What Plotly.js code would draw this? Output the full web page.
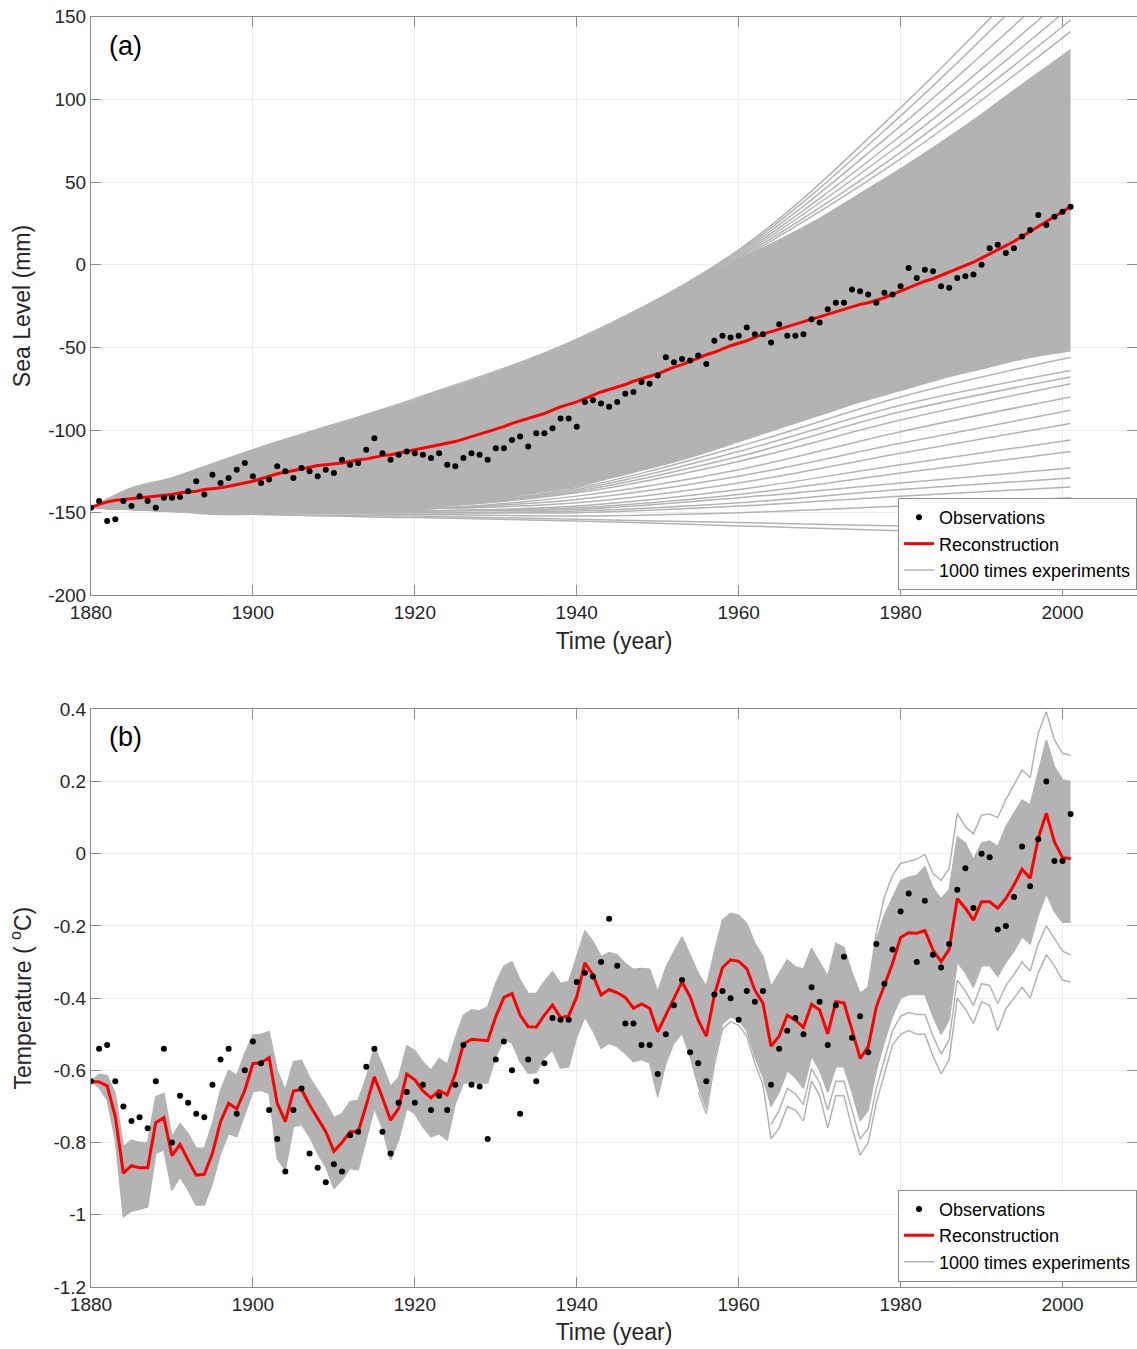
<!DOCTYPE html>
<html><head><meta charset="utf-8">
<script src="https://cdn.plot.ly/plotly-3.0.1.min.js"></script>
<style>html,body{margin:0;padding:0;background:#fff;} #chart{width:1137px;height:1349px;}</style>
</head><body><div id="chart"></div>
<script>
// ---------- data ----------
const years = []; for (let y = 1880; y <= 2001; y++) years.push(y);

const seaObs = [-147,-143,-155,-154,-143,-146,-140,-143,-147,-141,-141,-140.5,-137,-131,-139,-127,-132,-129,-124,-120,
-128,-132,-130,-122,-125,-129,-123,-125,-128,-124,-126,-118,-121,-120,-112,-105,-114,-118,-115,-113,
-114,-115,-117,-114,-121,-122,-117,-114,-115,-118,-111,-111,-106,-104,-110,-102,-102,-99,-93,-93,
-98,-83,-82,-84,-86,-83,-78,-77,-71,-72,-67,-56,-59,-57,-58,-55,-60,-46,-43,-44,
-43,-38,-42,-42,-47,-36,-43,-43,-42,-33,-35,-27,-23,-23,-15,-16,-18,-23,-17,-18,
-13,-2,-8,-3,-4,-13,-14,-8,-7,-6,0,10,12,7,10,17,21,30,24,29,32,35];

const seaRecon = [-147,-145,-143.5,-142.5,-142,-141.5,-141,-140.5,-140,-139.5,-139,-138,-137.5,-137,-136,-135.5,-135,-134,-133,-132,
-131,-129.5,-128,-126.5,-125.5,-124.5,-123.5,-122.5,-121.5,-121,-120.5,-120,-119,-118,-117.5,-116.5,-115.5,-115,-114,-113,
-112,-111,-110,-109,-108,-107,-105.5,-104,-102.5,-101,-99.5,-98,-96,-94.5,-93,-91.5,-90,-88,-86,-84.5,
-83,-81,-79,-77,-75.5,-74,-72.5,-70.5,-69,-67.5,-66,-64,-62,-60.5,-58.5,-56.5,-54.5,-53,-51,-49,
-47.5,-46,-44,-42,-40.5,-39,-37.5,-36,-34.5,-33,-31.5,-30,-28.5,-27,-25.5,-24,-23,-21.5,-20,-18,
-16,-14,-12,-10,-8.5,-6.5,-4.5,-2.5,-0.5,1.5,4,6.5,9,11,14,17,20,23,26,29,32,35];

const seaBandYears = [1880,1885,1890,1895,1900,1905,1910,1915,1920,1925,1930,1935,1940,1945,1950,1955,1960,1965,1970,1975,1980,1985,1990,1995,2001];
const seaBandUpper = [-147,-135,-129,-121,-113,-105,-98,-90,-83,-75,-66,-56,-46,-35,-23,-10,3,15,28,43,58,74,91,109,130];
const seaBandLower = [-147,-148,-149,-151,-151,-150,-149,-148,-147,-145,-142,-138,-134,-128,-122,-115,-107,-99,-91,-83,-76,-69,-63,-57,-52];

const seaLineYears = [1880,1900,1920,1940,1960,1980,2001];
const seaUpperLines = [
  [-147,-112,-81,-45,9,95,200],
  [-147,-112,-82,-46,8,90,190],
  [-147,-113,-82,-46,7,84,176],
  [-147,-113,-83,-47,6,78,165],
  [-147,-113,-83,-47,5,73,156],
  [-147,-113,-83,-48,4,68,148],
  [-147,-113,-83,-48,3,64,141]
];
const seaLowerLines = [
  [-147,-151,-153,-155,-158,-161,-166],
  [-147,-151,-152,-154,-156,-158,-160],
  [-147,-150,-151,-152,-150,-146,-141],
  [-147,-150,-150,-150,-146,-140,-134.5],
  [-147,-150,-150,-149,-144,-136,-129],
  [-147,-150,-149,-148,-141,-132,-123],
  [-147,-150,-149,-147,-139,-126,-113],
  [-147,-150,-149,-146,-136,-121,-106],
  [-147,-150,-148,-144,-132,-114,-96],
  [-147,-150,-148,-142,-128,-108,-88],
  [-147,-149,-148,-140,-124,-101,-80],
  [-147,-149,-147,-138,-119,-94,-72],
  [-147,-149,-147,-137,-116,-89,-68],
  [-147,-149,-147,-136,-113,-85,-64],
  [-147,-149,-147,-135,-110,-80,-56]
];

const tempObs = [-0.63,-0.54,-0.53,-0.63,-0.70,-0.74,-0.73,-0.76,-0.63,-0.54,-0.80,-0.67,-0.69,-0.72,-0.73,-0.64,-0.57,-0.54,-0.72,-0.60,
-0.52,-0.58,-0.71,-0.79,-0.88,-0.71,-0.65,-0.83,-0.87,-0.91,-0.86,-0.88,-0.78,-0.77,-0.59,-0.54,-0.77,-0.83,-0.69,-0.66,
-0.69,-0.64,-0.71,-0.67,-0.71,-0.64,-0.53,-0.64,-0.645,-0.79,-0.57,-0.52,-0.60,-0.72,-0.57,-0.63,-0.58,-0.455,-0.46,-0.46,
-0.355,-0.33,-0.34,-0.30,-0.18,-0.31,-0.47,-0.47,-0.53,-0.53,-0.61,-0.50,-0.42,-0.35,-0.55,-0.58,-0.63,-0.39,-0.38,-0.40,
-0.46,-0.38,-0.41,-0.38,-0.64,-0.54,-0.49,-0.455,-0.50,-0.37,-0.41,-0.53,-0.42,-0.285,-0.51,-0.45,-0.55,-0.25,-0.36,-0.265,
-0.16,-0.11,-0.30,-0.13,-0.28,-0.315,-0.25,-0.10,-0.04,-0.15,0.00,-0.01,-0.21,-0.20,-0.12,0.02,-0.09,0.04,0.20,-0.02,-0.02,0.11];

const tempRecon = [-0.63,-0.632,-0.643,-0.728,-0.885,-0.864,-0.87,-0.87,-0.745,-0.731,-0.836,-0.805,-0.849,-0.89,-0.888,-0.83,-0.742,-0.691,-0.707,-0.655,
-0.581,-0.579,-0.565,-0.691,-0.742,-0.657,-0.653,-0.696,-0.733,-0.77,-0.824,-0.80,-0.77,-0.77,-0.696,-0.618,-0.676,-0.738,-0.705,-0.61,
-0.626,-0.657,-0.676,-0.656,-0.668,-0.61,-0.527,-0.514,-0.516,-0.518,-0.451,-0.398,-0.387,-0.447,-0.479,-0.48,-0.447,-0.419,-0.454,-0.449,
-0.396,-0.302,-0.336,-0.391,-0.376,-0.385,-0.398,-0.428,-0.416,-0.428,-0.493,-0.447,-0.40,-0.355,-0.396,-0.461,-0.505,-0.391,-0.315,-0.294,
-0.298,-0.318,-0.378,-0.414,-0.533,-0.505,-0.447,-0.461,-0.481,-0.417,-0.433,-0.499,-0.41,-0.413,-0.488,-0.567,-0.535,-0.424,-0.364,-0.304,
-0.232,-0.219,-0.22,-0.213,-0.267,-0.299,-0.265,-0.124,-0.151,-0.184,-0.133,-0.133,-0.151,-0.124,-0.087,-0.043,-0.068,0.043,0.112,0.033,-0.011,-0.013];

const tempUpper = [-0.63,-0.611,-0.615,-0.664,-0.812,-0.793,-0.80,-0.80,-0.673,-0.664,-0.784,-0.747,-0.775,-0.816,-0.816,-0.747,-0.655,-0.60,-0.614,-0.553,
-0.502,-0.50,-0.493,-0.60,-0.655,-0.576,-0.572,-0.62,-0.655,-0.69,-0.731,-0.72,-0.687,-0.683,-0.62,-0.535,-0.586,-0.645,-0.62,-0.532,
-0.545,-0.577,-0.60,-0.567,-0.583,-0.51,-0.447,-0.433,-0.435,-0.424,-0.359,-0.311,-0.299,-0.35,-0.387,-0.387,-0.354,-0.327,-0.359,-0.354,
-0.285,-0.213,-0.243,-0.285,-0.274,-0.28,-0.304,-0.32,-0.318,-0.32,-0.382,-0.316,-0.271,-0.23,-0.28,-0.331,-0.368,-0.271,-0.184,-0.165,
-0.17,-0.193,-0.248,-0.285,-0.368,-0.331,-0.294,-0.313,-0.32,-0.262,-0.30,-0.34,-0.248,-0.26,-0.33,-0.387,-0.37,-0.24,-0.17,-0.12,
-0.075,-0.065,-0.06,-0.036,-0.095,-0.125,-0.10,0.047,0.03,-0.017,0.029,0.035,0.02,0.075,0.112,0.149,0.135,0.223,0.315,0.241,0.204,0.20];

const tempLower = [-0.63,-0.648,-0.682,-0.793,-1.005,-0.99,-0.985,-0.978,-0.83,-0.82,-0.932,-0.895,-0.932,-0.973,-0.973,-0.913,-0.83,-0.775,-0.784,-0.719,
-0.659,-0.655,-0.664,-0.844,-0.876,-0.756,-0.75,-0.784,-0.83,-0.867,-0.927,-0.904,-0.872,-0.876,-0.793,-0.705,-0.761,-0.848,-0.793,-0.705,
-0.72,-0.756,-0.784,-0.775,-0.793,-0.692,-0.635,-0.635,-0.635,-0.635,-0.562,-0.514,-0.524,-0.576,-0.608,-0.606,-0.565,-0.544,-0.594,-0.59,
-0.507,-0.452,-0.49,-0.539,-0.525,-0.535,-0.553,-0.576,-0.57,-0.58,-0.673,-0.58,-0.525,-0.497,-0.56,-0.645,-0.705,-0.567,-0.47,-0.452,
-0.461,-0.49,-0.562,-0.618,-0.70,-0.66,-0.60,-0.62,-0.65,-0.56,-0.60,-0.66,-0.59,-0.59,-0.66,-0.74,-0.71,-0.60,-0.52,-0.45,
-0.40,-0.39,-0.39,-0.39,-0.45,-0.50,-0.46,-0.30,-0.33,-0.37,-0.31,-0.31,-0.34,-0.30,-0.27,-0.23,-0.25,-0.17,-0.11,-0.16,-0.19,-0.19];

// separated experiment lines (start years 1976, 1964, 1955)
const tempTopLine = [-0.37,-0.22,-0.12,-0.06,-0.027,-0.02,-0.015,-0.002,-0.055,-0.074,-0.04,0.112,0.075,0.055,0.107,0.11,0.10,0.15,0.19,0.232,0.211,0.334,0.393,0.315,0.278,0.273];
const tempMidLine = [-0.75,-0.71,-0.65,-0.665,-0.695,-0.595,-0.635,-0.71,-0.63,-0.63,-0.71,-0.79,-0.76,-0.65,-0.57,-0.49,-0.45,-0.44,-0.445,-0.445,-0.505,-0.555,-0.515,-0.35,-0.38,-0.42,-0.36,-0.365,-0.415,-0.365,-0.335,-0.30,-0.325,-0.25,-0.20,-0.235,-0.27,-0.28];
const tempLowLine = [-0.66,-0.72,-0.585,-0.485,-0.465,-0.475,-0.505,-0.58,-0.64,-0.79,-0.76,-0.70,-0.71,-0.74,-0.63,-0.67,-0.76,-0.67,-0.67,-0.76,-0.835,-0.80,-0.69,-0.61,-0.53,-0.50,-0.49,-0.50,-0.50,-0.56,-0.61,-0.57,-0.40,-0.43,-0.47,-0.41,-0.42,-0.49,-0.43,-0.40,-0.37,-0.40,-0.33,-0.28,-0.31,-0.35,-0.355];

const xTicks = [1880,1900,1920,1940,1960,1980,2000];
const seaTicks = [-200,-150,-100,-50,0,50,100,150];
const seaTickText = ['-200','-150','-100','-50','0','50','100','150'];
const tempTicks = [-1.2,-1,-0.8,-0.6,-0.4,-0.2,0,0.2,0.4];
const tempTickText = ['-1.2','-1','-0.8','-0.6','-0.4','-0.2','0','0.2','0.4'];

// ---------- traces ----------
const GRAY = '#b3b3b3';
const FONT = 'Liberation Sans, Arial, Helvetica, sans-serif';
const traces = [];
function gline(x, y, xa, ya, shape, extra) {
  return Object.assign({x, y, type:'scatter', mode:'lines', xaxis:xa, yaxis:ya,
    line:{color:GRAY, width:1.5, shape:shape}, showlegend:false, hoverinfo:'skip'}, extra||{});
}
// top panel
traces.push(gline(seaBandYears, seaBandLower, 'x', 'y', 'spline'));
traces.push(gline(seaBandYears, seaBandUpper, 'x', 'y', 'spline', {fill:'tonexty', fillcolor:GRAY}));
seaUpperLines.forEach(l => traces.push(gline(seaLineYears, l, 'x', 'y', 'spline')));
seaLowerLines.forEach((l, i) => traces.push(gline(seaLineYears, l, 'x', 'y', 'spline',
  i === 0 ? {showlegend:true, name:'1000 times experiments', legend:'legend', legendrank:3} : {})));
traces.push({x:years, y:seaRecon, type:'scatter', mode:'lines', xaxis:'x', yaxis:'y',
  line:{color:'#ff0000', width:3}, name:'Reconstruction', legend:'legend', legendrank:2});
traces.push({x:years, y:seaObs, type:'scatter', mode:'markers', xaxis:'x', yaxis:'y',
  marker:{color:'#000', size:6}, name:'Observations', legend:'legend', legendrank:1});

// bottom panel
traces.push(gline(years, tempLower, 'x2', 'y2', 'linear'));
traces.push(gline(years, tempUpper, 'x2', 'y2', 'linear', {fill:'tonexty', fillcolor:GRAY}));
traces.push(gline(years.slice(1976-1880), tempTopLine, 'x2', 'y2', 'linear'));
traces.push(gline(years.slice(1964-1880), tempMidLine, 'x2', 'y2', 'linear'));
traces.push(gline(years.slice(1955-1880), tempLowLine, 'x2', 'y2', 'linear',
  {showlegend:true, name:'1000 times experiments', legend:'legend2', legendrank:3}));
traces.push({x:years, y:tempRecon, type:'scatter', mode:'lines', xaxis:'x2', yaxis:'y2',
  line:{color:'#ff0000', width:3}, name:'Reconstruction', legend:'legend2', legendrank:2});
traces.push({x:years, y:tempObs, type:'scatter', mode:'markers', xaxis:'x2', yaxis:'y2',
  marker:{color:'#000', size:6}, name:'Observations', legend:'legend2', legendrank:1});

// ---------- layout ----------
const AX = '#8c8c8c';
const axisCommon = {showline:true, linecolor:AX, linewidth:1, mirror:'ticks', ticks:'inside', ticklen:10,
  tickcolor:AX, tickwidth:1, showgrid:true, gridcolor:'#ebebeb', gridwidth:1, zeroline:false,
  tickfont:{family:FONT, size:19, color:'#262626'}};
const xTitle = {text:'Time (year)', font:{family:FONT, size:23, color:'#262626'}, standoff:10};
const legendCommon = {xanchor:'right', x:1, yanchor:'bottom', bgcolor:'#ffffff', bordercolor:AX, borderwidth:1,
  font:{family:FONT, size:18, color:'#000'}, itemwidth:30, tracegroupgap:0, traceorder:'normal'};

const layout = {
  width:1137, height:1349, paper_bgcolor:'#fff', plot_bgcolor:'#fff',
  margin:{l:91, r:0, t:0, b:0},
  font:{family:FONT},
  xaxis: Object.assign({}, axisCommon, {domain:[0,1], anchor:'y', range:[1880,2009.2], tickvals:xTicks, title:xTitle}),
  yaxis: Object.assign({}, axisCommon, {domain:[0.5587,0.9876], anchor:'x', range:[-200,150], tickvals:seaTicks, ticktext:seaTickText,
    title:{text:'Sea Level (mm)', font:{family:FONT, size:23, color:'#262626'}, standoff:11}}),
  xaxis2: Object.assign({}, axisCommon, {domain:[0,1], anchor:'y2', range:[1880,2009.2], tickvals:xTicks, title:xTitle}),
  yaxis2: Object.assign({}, axisCommon, {domain:[0.04596,0.4742], anchor:'x2', range:[-1.2,0.4], tickvals:tempTicks, ticktext:tempTickText,
    title:{text:'Temperature ( <sup>o</sup>C)', font:{family:FONT, size:23, color:'#262626'}, standoff:15}}),
  legend: Object.assign({}, legendCommon, {y:0.5626}),
  legend2: Object.assign({}, legendCommon, {y:0.0499}),
  showlegend:true,
  annotations:[
    {text:'(a)', xref:'x', yref:'y', x:1882, y:132, xanchor:'left', yanchor:'middle', showarrow:false,
     font:{family:FONT, size:27, color:'#000'}},
    {text:'(b)', xref:'x2', yref:'y2', x:1882, y:0.323, xanchor:'left', yanchor:'middle', showarrow:false,
     font:{family:FONT, size:27, color:'#000'}}
  ]
};

Plotly.newPlot('chart', traces, layout, {displayModeBar:false, staticPlot:true});
</script></body></html>
